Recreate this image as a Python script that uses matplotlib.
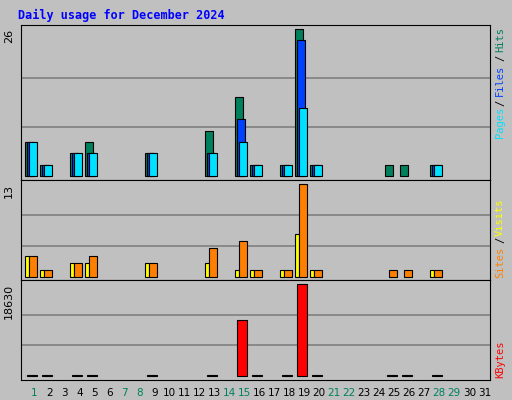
import numpy as np
import matplotlib.pyplot as plt

days = np.arange(1, 32)
hits = np.zeros(31); files = np.zeros(31); pages = np.zeros(31)
visits = np.zeros(31); sites = np.zeros(31); kbytes = np.zeros(31)

# values, by day
hits_d = {1: 6, 2: 2, 4: 4, 5: 6, 9: 4, 13: 8, 15: 14, 16: 2, 18: 2, 19: 26, 20: 2, 25: 2, 26: 2, 28: 2}
files_d = {1: 6, 2: 2, 4: 4, 5: 4, 9: 4, 13: 4, 15: 10, 16: 2, 18: 2, 19: 24, 20: 2, 28: 2}
pages_d = {1: 6, 2: 2, 4: 4, 5: 4, 9: 4, 13: 4, 15: 6, 16: 2, 18: 2, 19: 12, 20: 2, 28: 2}
visits_d = {1: 3, 2: 1, 4: 2, 5: 2, 9: 2, 13: 2, 15: 1, 16: 1, 18: 1, 19: 6, 20: 1, 28: 1}
sites_d = {1: 3, 2: 1, 4: 2, 5: 3, 9: 2, 13: 4, 15: 5, 16: 1, 18: 1, 19: 13, 20: 1, 25: 1, 26: 1, 28: 1}
kbytes_d = {1: 120, 2: 120, 4: 120, 5: 120, 9: 120, 13: 120, 15: 11340, 16: 120, 18: 120,
            19: 18630, 20: 120, 25: 120, 26: 120, 28: 120}
for arr, d in [(hits, hits_d), (files, files_d), (pages, pages_d),
               (visits, visits_d), (sites, sites_d), (kbytes, kbytes_d)]:
    for k, v in d.items():
        arr[k - 1] = v

weekend = [1, 7, 8, 14, 15, 21, 22, 28, 29]

BG = "#C0C0C0"
fig = plt.figure(figsize=(5.12, 4.0), dpi=100, facecolor=BG)
fig.text(0.035, 0.962, "Daily usage for December 2024", color="#0000FF",
         family="DejaVu Sans Mono", weight="bold", fontsize=8.5, va="center")

L, W = 0.0404, 0.9166
ax1 = fig.add_axes([L, 0.55, W, 0.3875])
ax2 = fig.add_axes([L, 0.30, W, 0.25])
ax3 = fig.add_axes([L, 0.05, W, 0.25])


def bars(ax, offset, vals, width, color):
    m = vals > 0
    ax.bar(days[m] + offset, vals[m], width, color=color, align="edge",
           edgecolor="black", linewidth=0.8)


bars(ax1, -0.5, hits, 0.49, "#00805C")
bars(ax1, -0.37, files, 0.49, "#0040FF")
bars(ax1, -0.24, pages, 0.49, "#00E0FF")
bars(ax2, -0.5, visits, 0.27, "#FFFF00")
bars(ax2, -0.24, sites, 0.49, "#FF8000")
small = kbytes < 500
bars(ax3, -0.39, np.where(small, 0, kbytes), 0.67, "#FF0000")
bars(ax3, -0.39, np.where(small, kbytes, 0), 0.67, "black")

ax1.set_ylim(-0.7, 26.7)
ax2.set_ylim(-0.42, 13.56)
ax3.set_ylim(-810, 19440)
for ax, top in [(ax1, 26), (ax2, 13), (ax3, 18630)]:
    ax.set_facecolor(BG)
    ax.set_xlim(0.19, 31.48)
    for f in (1 / 3, 2 / 3):
        ax.axhline(top * f, color="#808080", linewidth=1.2, zorder=0)
    ax.set_yticks([])
    ax.set_xticks([])
    for s in ax.spines.values():
        s.set_color("black")
    ax.text(-0.025, top, str(top), transform=ax.get_yaxis_transform(), rotation=90,
            ha="center", va="top", fontsize=8, family="DejaVu Sans")

for d in days:
    ax3.text(d + 0.1, -0.08, str(d), transform=ax3.get_xaxis_transform(),
             ha="center", va="top", fontsize=7.5,
             color="#00805C" if d in weekend else "black")

# right-hand legend texts, centred at pixel y positions
side = [("Pages", "#00E0FF", 122), ("/", "black", 103), ("Files", "#0040FF", 80),
        ("/", "black", 58), ("Hits", "#00805C", 40),
        ("Sites", "#FF8000", 262), ("/", "black", 240), ("Visits", "#FFFF00", 217),
        ("KBytes", "#FF0000", 359)]
for txt, col, py in side:
    fig.text(500 / 512, 1 - py / 400, txt, rotation=90, ha="center", va="center",
             color=col, fontsize=7.5, family="DejaVu Sans Mono")

plt.savefig("out.png", dpi=100, facecolor=BG)
